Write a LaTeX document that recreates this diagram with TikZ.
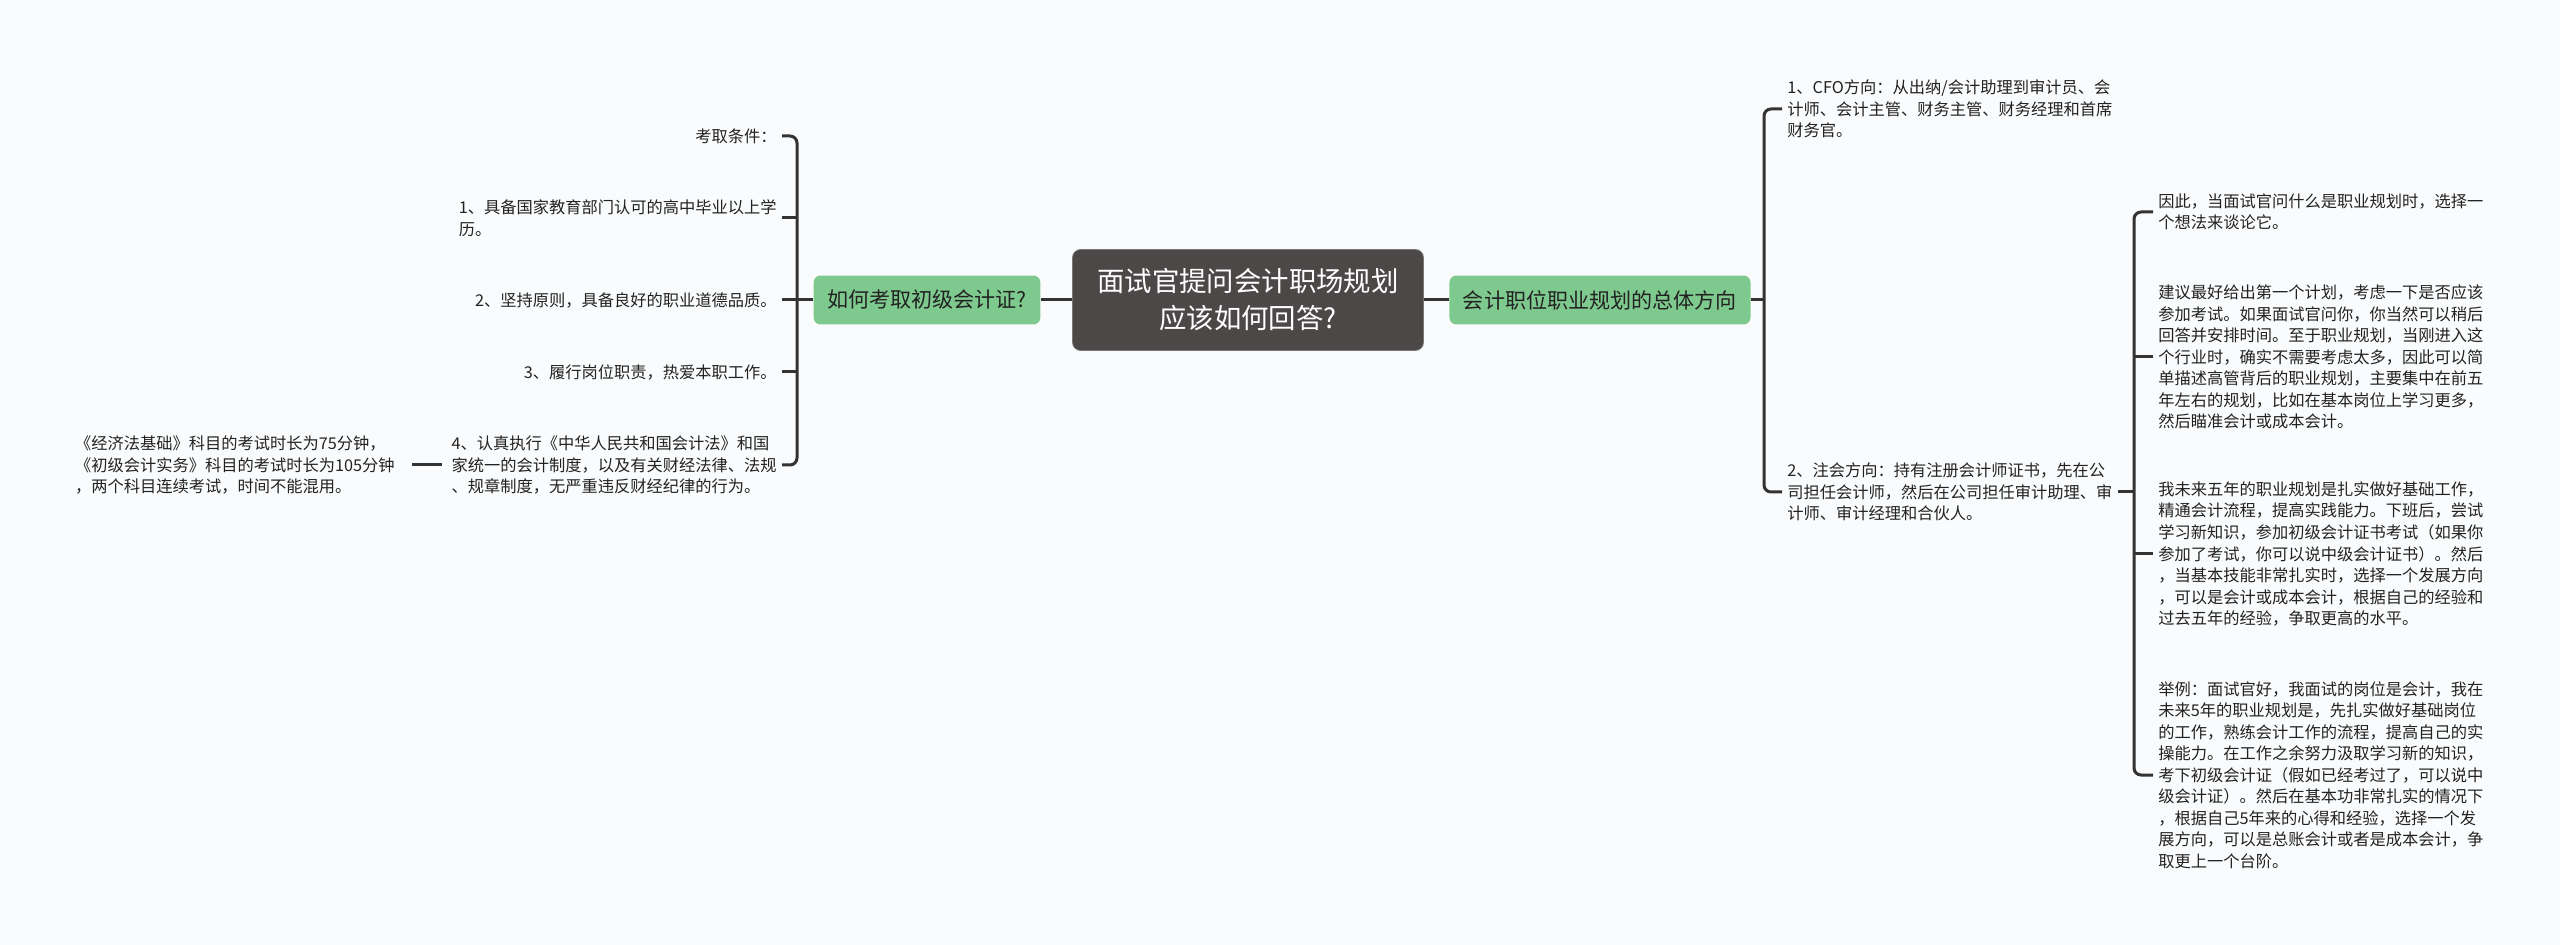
\documentclass[tikz,border=0pt]{standalone}
\usepackage{fontspec}
\setmainfont{Noto Sans CJK SC}
\usepackage{tikz}
\definecolor{bgcol}{RGB}{250, 251, 252}
\definecolor{rootfill}{RGB}{77, 72, 72}
\definecolor{leafgreen}{RGB}{126, 201, 142}
\definecolor{linkgray}{RGB}{51, 51, 51}
\definecolor{inkgray}{RGB}{34, 34, 34}

\begin{document}
\begin{tikzpicture}[x=0.02cm, y=-0.02cm,
    rootbox/.style={fill=rootfill, draw=rootfill!75!white, line width=0.4pt, rounded corners=0.16cm,
      minimum width=7.02cm, minimum height=2.02cm, align=center, text=white,
      font=\fontsize{15.6}{21}\selectfont},
    topicbox/.style={fill=leafgreen, rounded corners=0.14cm, minimum height=0.98cm,
      inner xsep=0.27cm, text=inkgray, font=\fontsize{12}{14}\selectfont},
    leaftext/.style={inner xsep=0.1cm, inner ysep=0pt, align=left, text=inkgray,
      font=\fontsize{9.25}{12.25}\selectfont},
    link/.style={draw=linkgray, line width=0.06cm},
    bracket/.style={link, rounded corners=0.14cm}]
    \fill[bgcol] (0,0) rectangle (2560,945);
    \useasboundingbox (0,0) rectangle (2560,945);

    % centre and the two topics
    \node (root) at (1248,300) [rootbox] {面试官提问会计职场规划\\应该如何回答?};
    \node (exam) at (927,300) [topicbox] {如何考取初级会计证?};
    \node (plan) at (1600,300) [topicbox] {会计职位职业规划的总体方向};
    \draw[link] (root.west) -- (exam.east);
    \draw[link] (root.east) -- (plan.west);

    % left branch
    \coordinate (lspine) at (797,300);
    \node (cond) at (782,136) [leaftext, anchor=east] {考取条件：};
    \node (req1) at (782,218) [leaftext, anchor=east] {1、具备国家教育部门认可的高中毕业以上学\\历。};
    \node (req2) at (782,300) [leaftext, anchor=east] {2、坚持原则，具备良好的职业道德品质。};
    \node (req3) at (782,372) [leaftext, anchor=east] {3、履行岗位职责，热爱本职工作。};
    \node (req4) at (782,465) [leaftext, anchor=east] {4、认真执行《中华人民共和国会计法》和国\\家统一的会计制度，以及有关财经法律、法规\\、规章制度，无严重违反财经纪律的行为。};
    \node (note) at (400,465) [leaftext, anchor=east] {《经济法基础》科目的考试时长为75分钟，\\《初级会计实务》科目的考试时长为105分钟\\，两个科目连续考试，时间不能混用。};
    \draw[link] (exam.west) -- (lspine);
    \draw[bracket] (cond.east) -| (req4.east -| lspine) -- (req4.east);
    \draw[link] (req1.east) -- (req1.east -| lspine);
    \draw[link] (req2.east) -- (lspine);
    \draw[link] (req3.east) -- (req3.east -| lspine);
    \draw[link, shorten <=0.24cm, shorten >=0.08cm] (note.east) -- (req4.west);

    % right branch
    \coordinate (rspine) at (1764,300);
    \node (cfo) at (1782,109) [leaftext, anchor=west] {1、CFO方向：从出纳/会计助理到审计员、会\\计师、会计主管、财务主管、财务经理和首席\\财务官。};
    \node (cpa) at (1782,492) [leaftext, anchor=west] {2、注会方向：持有注册会计师证书，先在公\\司担任会计师，然后在公司担任审计助理、审\\计师、审计经理和合伙人。};
    \draw[link] (plan.east) -- (rspine);
    \draw[bracket] (cfo.west) -| (cpa.west -| rspine) -- (cpa.west);

    % answers under the CPA route
    \coordinate (sspine) at (2134,492);
    \node (ans1) at (2153,212) [leaftext, anchor=west] {因此，当面试官问什么是职业规划时，选择一\\个想法来谈论它。};
    \node (ans2) at (2153,357) [leaftext, anchor=west] {建议最好给出第一个计划，考虑一下是否应该\\参加考试。如果面试官问你，你当然可以稍后\\回答并安排时间。至于职业规划，当刚进入这\\个行业时，确实不需要考虑太多，因此可以简\\单描述高管背后的职业规划，主要集中在前五\\年左右的规划，比如在基本岗位上学习更多，\\然后瞄准会计或成本会计。};
    \node (ans3) at (2153,554) [leaftext, anchor=west] {我未来五年的职业规划是扎实做好基础工作，\\精通会计流程，提高实践能力。下班后，尝试\\学习新知识，参加初级会计证书考试（如果你\\参加了考试，你可以说中级会计证书）。然后\\，当基本技能非常扎实时，选择一个发展方向\\，可以是会计或成本会计，根据自己的经验和\\过去五年的经验，争取更高的水平。};
    \node (ans4) at (2153,775) [leaftext, anchor=west] {举例：面试官好，我面试的岗位是会计，我在\\未来5年的职业规划是，先扎实做好基础岗位\\的工作，熟练会计工作的流程，提高自己的实\\操能力。在工作之余努力汲取学习新的知识，\\考下初级会计证（假如已经考过了，可以说中\\级会计证）。然后在基本功非常扎实的情况下\\，根据自己5年来的心得和经验，选择一个发\\展方向，可以是总账会计或者是成本会计，争\\取更上一个台阶。};
    \draw[link] (cpa.east) -- (cpa.east -| sspine);
    \draw[bracket] (ans1.west) -| (ans4.west -| sspine) -- (ans4.west);
    \draw[link] (ans2.west) -- (ans2.west -| sspine);
    \draw[link] (ans3.west) -- (ans3.west -| sspine);
\end{tikzpicture}
\end{document}
